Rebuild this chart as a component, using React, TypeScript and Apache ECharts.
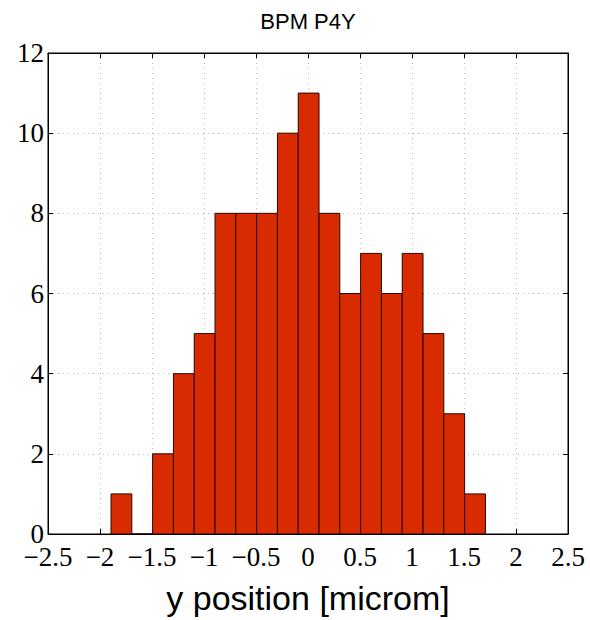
import React, { useEffect, useRef } from "react";
import * as echarts from "echarts";

const binEdges = [
  -1.894, -1.694, -1.494, -1.294, -1.094, -0.894, -0.694, -0.494, -0.294,
  -0.094, 0.106, 0.306, 0.506, 0.706, 0.906, 1.106, 1.306, 1.506, 1.706,
];
const counts = [1, 0, 2, 4, 5, 8, 8, 8, 10, 11, 8, 6, 7, 6, 7, 5, 3, 1];
const chartTitle = "BPM P4Y";
const xTitle = "y position [microm]";

export default function App() {
  const ref = useRef<HTMLDivElement>(null);
  useEffect(() => {
    if (!ref.current) return;
    const chart = echarts.init(ref.current, null, { renderer: "svg" });
    const data = counts.map((c, i) => [binEdges[i], binEdges[i + 1], c]);
    const serif = "'Liberation Serif', 'Times New Roman', serif";
    const sans = "'Liberation Sans', Arial, sans-serif";
    const grid = { left: 48, right: 22, top: 53, bottom: 83 };
    const fmt = (v: number) => String(v).replace("-", "\u2212");
    chart.setOption({
      animation: false,
      backgroundColor: "#fff",
      grid: { ...grid, show: true, borderColor: "#000", borderWidth: 1, backgroundColor: "transparent" },
      graphic: [
        {
          type: "text",
          x: 308,
          y: 21,
          style: {
            text: chartTitle,
            fontFamily: sans,
            fontSize: 22,
            fill: "#000",
            align: "center",
            verticalAlign: "middle",
          },
        },
      ],
      xAxis: [
        {
          type: "value",
          min: -2.5,
          max: 2.5,
          interval: 0.5,
          position: "bottom",
          axisLine: { show: true, onZero: false, lineStyle: { color: "#000", width: 1 } },
          axisTick: { show: true, inside: true, length: 5, lineStyle: { color: "#000" } },
          axisLabel: {
            margin: 9,
            fontFamily: serif,
            fontSize: 27,
            color: "#000",
            formatter: fmt,
          },
          splitLine: { show: true, lineStyle: { color: "#b8b8b8", type: [1, 4], width: 1 } },
          name: xTitle,
          nameLocation: "middle",
          nameGap: 47,
          nameTextStyle: { fontFamily: sans, fontSize: 34, color: "#000" },
        },
        {
          type: "value",
          min: -2.5,
          max: 2.5,
          interval: 0.5,
          position: "top",
          axisLine: { show: true, onZero: false, lineStyle: { color: "#000", width: 1 } },
          axisTick: { show: true, inside: true, length: 5, lineStyle: { color: "#000" } },
          axisLabel: { show: false },
          splitLine: { show: false },
        },
      ],
      yAxis: [
        {
          type: "value",
          min: 0,
          max: 12,
          interval: 2,
          position: "left",
          axisLine: { show: true, onZero: false, lineStyle: { color: "#000", width: 1 } },
          axisTick: { show: true, inside: true, length: 5, lineStyle: { color: "#000" } },
          axisLabel: { margin: 4, fontFamily: serif, fontSize: 27, color: "#000" },
          splitLine: { show: true, lineStyle: { color: "#b8b8b8", type: [1, 4], width: 1 } },
        },
        {
          type: "value",
          min: 0,
          max: 12,
          interval: 2,
          position: "right",
          axisLine: { show: true, onZero: false, lineStyle: { color: "#000", width: 1 } },
          axisTick: { show: true, inside: true, length: 5, lineStyle: { color: "#000" } },
          axisLabel: { show: false },
          splitLine: { show: false },
        },
      ],
      series: [
        {
          type: "custom",
          xAxisIndex: 0,
          yAxisIndex: 0,
          data,
          clip: true,
          renderItem: (params: any, api: any) => {
            const x0 = api.value(0);
            const x1 = api.value(1);
            const c = api.value(2);
            const p0 = api.coord([x0, c]);
            const p1 = api.coord([x1, 0]);
            return {
              type: "rect",
              shape: { x: p0[0], y: p0[1], width: p1[0] - p0[0], height: p1[1] - p0[1] },
              style: { fill: "#d92b02", stroke: "#2a0800", lineWidth: 1 },
            };
          },
        },
      ],
    });
    return () => chart.dispose();
  }, []);
  return (
    <div
      ref={ref}
      style={{ position: "fixed", left: 0, top: 0, width: 590, height: 620 }}
    />
  );
}
